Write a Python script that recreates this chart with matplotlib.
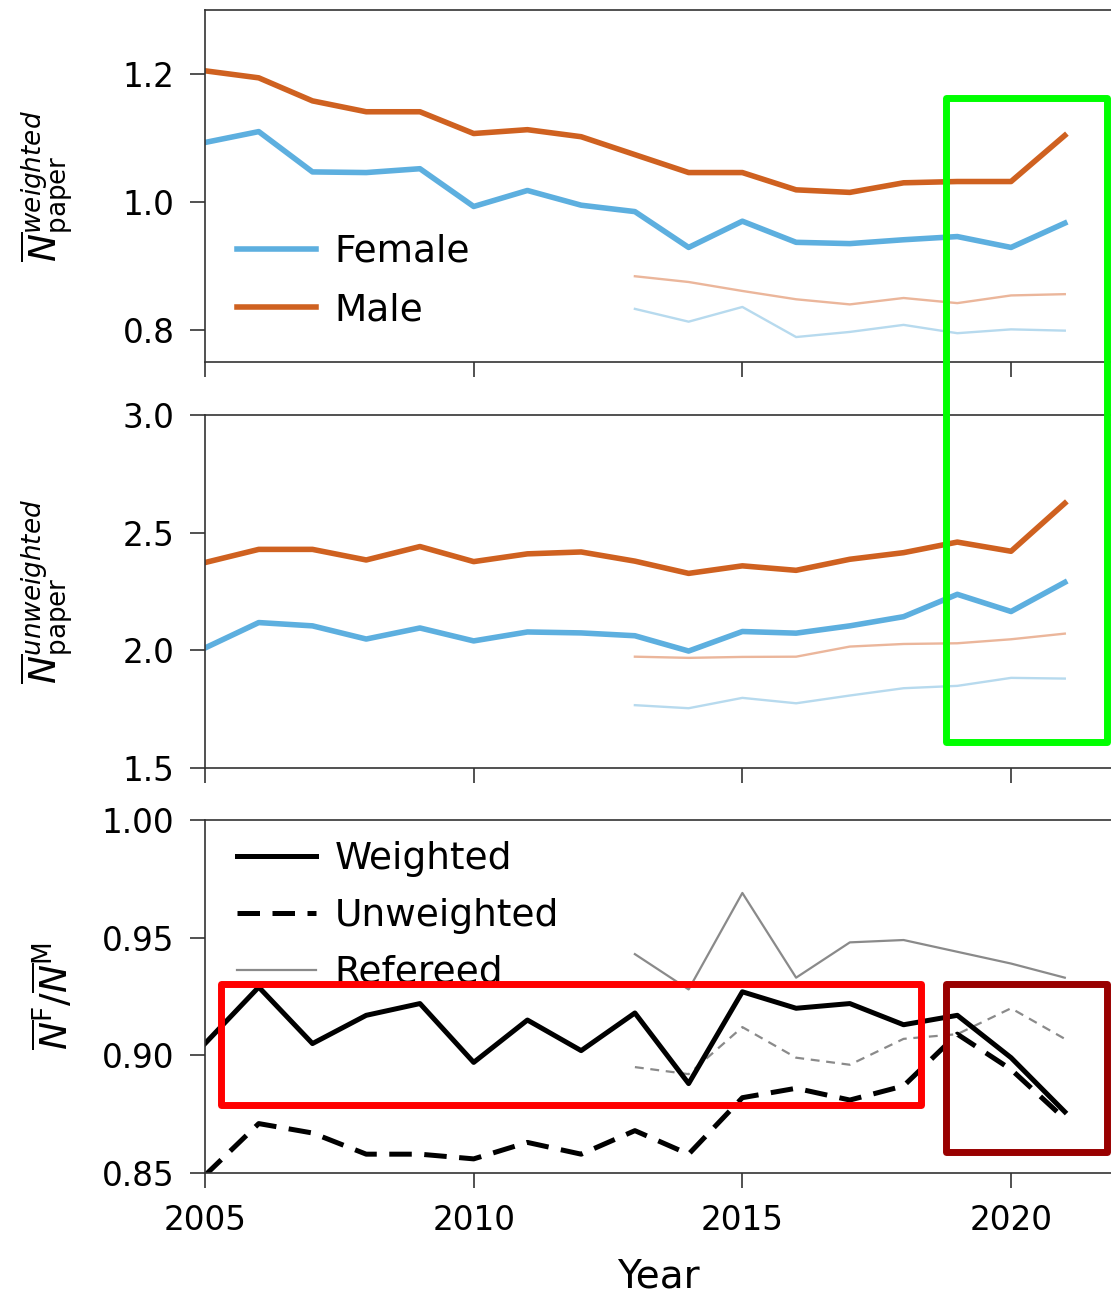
import matplotlib.pyplot as plt
from matplotlib.patches import Rectangle

years = list(range(2005, 2022))
ref_years = list(range(2013, 2022))

# weighted number of papers per author
w_female = [1.093, 1.110, 1.047, 1.046, 1.052, 0.993, 1.018, 0.995, 0.985,
            0.929, 0.970, 0.937, 0.935, 0.941, 0.946, 0.929, 0.967]
w_male = [1.205, 1.194, 1.158, 1.141, 1.141, 1.107, 1.113, 1.102, 1.074,
          1.046, 1.046, 1.019, 1.015, 1.030, 1.032, 1.032, 1.104]
w_female_ref = [0.833, 0.813, 0.836, 0.789, 0.797, 0.808, 0.795, 0.801, 0.799]
w_male_ref = [0.884, 0.875, 0.861, 0.848, 0.840, 0.850, 0.842, 0.854, 0.856]

# unweighted
u_female = [2.010, 2.118, 2.104, 2.048, 2.095, 2.040, 2.078, 2.074, 2.062,
            1.997, 2.080, 2.073, 2.104, 2.143, 2.238, 2.165, 2.289]
u_male = [2.373, 2.429, 2.429, 2.384, 2.441, 2.377, 2.410, 2.418, 2.379,
          2.327, 2.359, 2.340, 2.387, 2.415, 2.460, 2.421, 2.625]
u_female_ref = [1.767, 1.754, 1.798, 1.775, 1.808, 1.839, 1.849, 1.883, 1.880]
u_male_ref = [1.973, 1.968, 1.972, 1.973, 2.016, 2.027, 2.030, 2.047, 2.071]

# female / male ratio
ratio_w = [0.905, 0.929, 0.905, 0.917, 0.922, 0.897, 0.915, 0.902, 0.918,
           0.888, 0.927, 0.920, 0.922, 0.913, 0.917, 0.899, 0.876]
ratio_u = [0.849, 0.871, 0.867, 0.858, 0.858, 0.856, 0.863, 0.858, 0.868,
           0.858, 0.882, 0.886, 0.881, 0.887, 0.909, 0.894, 0.873]
ratio_w_ref = [0.943, 0.928, 0.969, 0.933, 0.948, 0.949, 0.944, 0.939, 0.933]
ratio_u_ref = [0.895, 0.892, 0.912, 0.899, 0.896, 0.907, 0.909, 0.920, 0.907]

BLUE = '#5DAFDF'
ORANGE = '#CF6120'
LBLUE = '#B7DAEE'
LORANGE = '#EBB69B'
GRAY = '#8a8a8a'

W, H = 1111, 1299
fig = plt.figure(figsize=(W / 100, H / 100), dpi=100)

def px_axes(top, bottom):
    return fig.add_axes([205 / W, 1 - bottom / H, (W - 205) / W, (bottom - top) / H])

ax1 = px_axes(10, 362)
ax2 = px_axes(415, 768)
ax3 = px_axes(820, 1173)

for ax in (ax1, ax2, ax3):
    ax.set_xlim(2005, 2021.86)
    ax.set_xticks([2005, 2010, 2015, 2020])
    ax.spines['right'].set_visible(False)
    for s in ('left', 'top', 'bottom'):
        ax.spines[s].set_color('#333333')
        ax.spines[s].set_linewidth(1.2)
    ax.tick_params(direction='out', length=11, width=1.2, color='#333333',
                   labelsize=23.5, pad=11)

# top panel
ax1.plot(ref_years, w_male_ref, color=LORANGE, lw=1.7)
ax1.plot(ref_years, w_female_ref, color=LBLUE, lw=1.7)
ax1.plot(years, w_female, color=BLUE, lw=4, label='Female')
ax1.plot(years, w_male, color=ORANGE, lw=4, label='Male')
ax1.set_ylim(0.75, 1.3)
ax1.set_yticks([0.8, 1.0, 1.2])
ax1.set_yticklabels(['0.8', '1.0', '1.2'])
ax1.tick_params(axis='x', labelbottom=False)
ax1.set_ylabel(r'$\overline{N}^{weighted}_{\mathrm{paper}}$', fontsize=27)
ax1.legend(loc='center left', bbox_to_anchor=(0.0354, 0.230), frameon=False,
           fontsize=27, handlelength=2.1, handletextpad=0.5, labelspacing=0.6,
           borderpad=0, borderaxespad=0)

# middle panel
ax2.plot(ref_years, u_male_ref, color=LORANGE, lw=1.7)
ax2.plot(ref_years, u_female_ref, color=LBLUE, lw=1.7)
ax2.plot(years, u_female, color=BLUE, lw=4)
ax2.plot(years, u_male, color=ORANGE, lw=4)
ax2.set_ylim(1.5, 3.0)
ax2.set_yticks([1.5, 2.0, 2.5, 3.0])
ax2.tick_params(axis='x', labelbottom=False)
ax2.set_ylabel(r'$\overline{N}^{unweighted}_{\mathrm{paper}}$', fontsize=27)

# bottom panel
ax3.plot(ref_years, ratio_w_ref, color=GRAY, lw=1.6)
ax3.plot(ref_years, ratio_u_ref, color=GRAY, lw=1.6, dashes=(4, 3))
ax3.plot(years, ratio_w, color='black', lw=3.6, label='Weighted')
ax3.plot(years, ratio_u, color='black', lw=3.6, dashes=(4.5, 2.5), label='Unweighted')
ax3.plot([], [], color=GRAY, lw=1.6, label='Refereed')
ax3.set_ylim(0.85, 1.0)
ax3.set_yticks([0.85, 0.90, 0.95, 1.00])
ax3.set_yticklabels(['0.85', '0.90', '0.95', '1.00'])
ax3.set_xlabel('Year', fontsize=28, labelpad=15)
ax3.set_ylabel(r'$\overline{N}^{\mathrm{F}}/\overline{N}^{\mathrm{M}}$', fontsize=27)
ax3.legend(loc='center left', bbox_to_anchor=(0.0354, 0.728), frameon=False,
           fontsize=27, handlelength=2.1, handletextpad=0.5, labelspacing=0.55,
           borderpad=0, borderaxespad=0)

for ax in (ax1, ax2, ax3):
    ax.yaxis.set_label_coords((76 - 205) / (W - 205), 0.5)

# highlight boxes drawn over the figure
def box(x0, y0, x1, y1, color):
    fig.add_artist(Rectangle((x0 / W, 1 - y1 / H), (x1 - x0) / W, (y1 - y0) / H,
                             transform=fig.transFigure, fill=False,
                             edgecolor=color, lw=5, joinstyle='round'))

box(945.5, 97.5, 1106.5, 741.5, '#00FF00')
box(220.5, 983.5, 920.5, 1104.5, '#FF0000')
box(945.5, 983.5, 1106.5, 1151.5, '#990000')

fig.savefig('out.png', dpi=100)
